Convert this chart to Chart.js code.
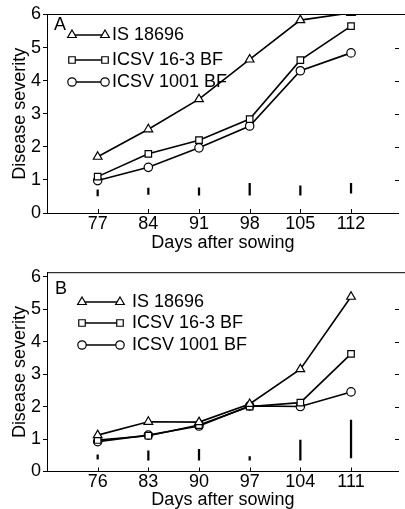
<!DOCTYPE html>
<html>
<head>
<meta charset="utf-8">
<script src="https://cdn.jsdelivr.net/npm/chart.js@4/dist/chart.umd.min.js"></script>
<style>
  html, body { margin: 0; padding: 0; background: #fff; overflow: hidden; }
  .panel { position: relative; width: 405px; }
  #panelA { height: 252px; }
  #panelB { height: 257px; }
</style>
</head>
<body>
<div class="panel" id="panelA"><canvas id="chartA"></canvas></div>
<div class="panel" id="panelB"><canvas id="chartB"></canvas></div>
<script>
// Panel A data
const daysA = [77, 84, 91, 98, 105, 112];
const is18696A = [1.70, 2.53, 3.44, 4.64, 5.83, 6.05];
const icsv163A = [1.10, 1.79, 2.20, 2.84, 4.62, 5.65];
const icsv1001A = [0.98, 1.38, 1.97, 2.63, 4.30, 4.84];
const barLowA = [0.52, 0.56, 0.54, 0.54, 0.54, 0.60];
const barHighA = [0.70, 0.75, 0.76, 0.90, 0.82, 0.90];

// Panel B data
const daysB = [76, 83, 90, 97, 104, 111];
const is18696B = [1.12, 1.53, 1.52, 2.08, 3.15, 5.38];
const icsv163B = [0.97, 1.10, 1.43, 2.00, 2.12, 3.62];
const icsv1001B = [0.92, 1.12, 1.40, 2.02, 2.00, 2.45];
const barLowB = [0.38, 0.35, 0.35, 0.35, 0.35, 0.42];
const barHighB = [0.51, 0.64, 0.68, 0.46, 0.97, 1.58];

const seriesNames = ['IS 18696', 'ICSV 16-3 BF', 'ICSV 1001 BF'];
const yTicks = [0, 1, 2, 3, 4, 5, 6];

const FONT = '"Liberation Sans", Arial, Helvetica, sans-serif';
const FS = 18;

// frame, inner ticks, panel letter and the line-marker-line legend
const panelDecor = {
    id: 'panelDecor',
    afterDatasetsDraw(chart, args, opts) {
        const ctx = chart.ctx;
        const { left, top, bottom } = chart.chartArea;
        const xs = chart.scales.x, ys = chart.scales.y;
        ctx.save();
        ctx.strokeStyle = '#000';
        ctx.lineWidth = 1;
        ctx.beginPath();
        ctx.moveTo(left, top);
        ctx.lineTo(chart.width, top);
        opts.days.forEach(d => {
            const px = Math.round(xs.getPixelForValue(d)) + 0.5;
            ctx.moveTo(px, bottom);
            ctx.lineTo(px, bottom - 4);
        });
        for (let v = 1; v <= 5; v++) {
            const py = Math.round(ys.getPixelForValue(v)) + 0.5;
            ctx.moveTo(395, py);
            ctx.lineTo(399, py);
        }
        ctx.stroke();

        ctx.fillStyle = '#000';
        ctx.font = FS + 'px ' + FONT;
        ctx.textBaseline = 'middle';
        ctx.textAlign = 'left';
        ctx.fillText(opts.letter, opts.letterPos[0], opts.letterPos[1]);

        const lg = opts.legend;
        chart.data.datasets.filter(ds => ds.type !== 'bar').forEach((ds, i) => {
            const ly = lg.rows[i];
            ctx.lineWidth = 1.6;
            ctx.strokeStyle = '#000';
            ctx.beginPath();
            ctx.moveTo(lg.x1, ly);
            ctx.lineTo(lg.x2, ly);
            ctx.stroke();
            ctx.fillStyle = '#fff';
            ctx.lineWidth = 1.2;
            const pt = { pointStyle: ds.pointStyle, radius: ds.pointRadius, borderWidth: 1.2, rotation: 0 };
            Chart.helpers.drawPoint(ctx, pt, lg.x1, ly);
            ctx.fillStyle = '#fff';
            Chart.helpers.drawPoint(ctx, pt, lg.x2, ly);
            ctx.fillStyle = '#000';
            ctx.fillText(ds.label, lg.tx, ly);
        });
        ctx.restore();
    }
};

function lineSet(label, days, values, style, radius) {
    return {
        type: 'line',
        label: label,
        data: days.map((d, i) => ({ x: d, y: values[i] })),
        borderColor: '#000',
        borderWidth: 1.6,
        pointStyle: style,
        pointRadius: radius,
        pointBorderWidth: 1.2,
        pointBackgroundColor: '#fff',
        pointBorderColor: '#000',
        tension: 0
    };
}

function makePanel(canvasId, cfg) {
    const ctx = document.getElementById(canvasId).getContext('2d');
    return new Chart(ctx, {
        type: 'line',
        data: {
            datasets: [
                {
                    type: 'bar',
                    label: 'bars',
                    data: cfg.days.map((d, i) => ({ x: d, y: [cfg.lows[i], cfg.highs[i]] })),
                    backgroundColor: '#000',
                    barThickness: 1.6,
                    borderWidth: 0
                },
                lineSet(seriesNames[0], cfg.days, cfg.s1, 'triangle', 5),
                lineSet(seriesNames[1], cfg.days, cfg.s2, 'rect', 4.6),
                lineSet(seriesNames[2], cfg.days, cfg.s3, 'circle', 4.2)
            ]
        },
        options: {
            responsive: true,
            maintainAspectRatio: false,
            animation: false,
            layout: { padding: { top: cfg.top, right: 0, left: 0, bottom: 0 } },
            plugins: {
                legend: { display: false },
                tooltip: { enabled: false },
                panelDecor: {
                    days: cfg.days,
                    letter: cfg.letter,
                    letterPos: cfg.letterPos,
                    legend: cfg.legend
                }
            },
            scales: {
                x: {
                    type: 'linear',
                    min: cfg.xMin,
                    max: cfg.xMax,
                    offset: false,
                    grid: { display: false, offset: false, drawTicks: false, tickLength: 0 },
                    border: { display: true, color: '#000', width: 1 },
                    afterBuildTicks: s => { s.ticks = cfg.days.map(v => ({ value: v })); },
                    afterFit: s => { s.height = cfg.xHeight; },
                    ticks: {
                        color: '#000',
                        padding: 0,
                        maxRotation: 0,
                        font: { family: FONT, size: FS }
                    },
                    title: {
                        display: true,
                        text: 'Days after sowing',
                        color: '#000',
                        font: { family: FONT, size: FS, lineHeight: 1 },
                        padding: { top: 0, bottom: 0 }
                    }
                },
                y: {
                    type: 'linear',
                    min: 0,
                    max: cfg.yMax,
                    grid: { drawOnChartArea: false, drawTicks: true, tickLength: 4, color: '#000' },
                    border: { display: true, color: '#000', width: 1 },
                    afterBuildTicks: s => { s.ticks = yTicks.map(v => ({ value: v })); },
                    afterFit: s => { s.width = 47; },
                    ticks: {
                        color: '#000',
                        padding: 2,
                        font: { family: FONT, size: FS }
                    },
                    title: {
                        display: true,
                        text: 'Disease severity',
                        color: '#000',
                        font: { family: FONT, size: FS, lineHeight: 1 },
                        padding: { top: 11, bottom: 0 }
                    }
                }
            }
        },
        plugins: [panelDecor]
    });
}

makePanel('chartA', {
    days: daysA, s1: is18696A, s2: icsv163A, s3: icsv1001A,
    lows: barLowA, highs: barHighA,
    xMin: 70, xMax: 118.6, yMax: 6, top: 14.5, xHeight: 39,
    letter: 'A', letterPos: [54, 25],
    legend: { x1: 72, x2: 105, tx: 112, rows: [35, 60, 82] }
});

makePanel('chartB', {
    days: daysB, s1: is18696B, s2: icsv163B, s3: icsv1001B,
    lows: barLowB, highs: barHighB,
    xMin: 69, xMax: 117.6, yMax: 6.12, top: 20.7, xHeight: 37.5,
    letter: 'B', letterPos: [55, 37],
    legend: { x1: 82, x2: 120, tx: 132, rows: [50, 71, 93] }
});
</script>
</body>
</html>
